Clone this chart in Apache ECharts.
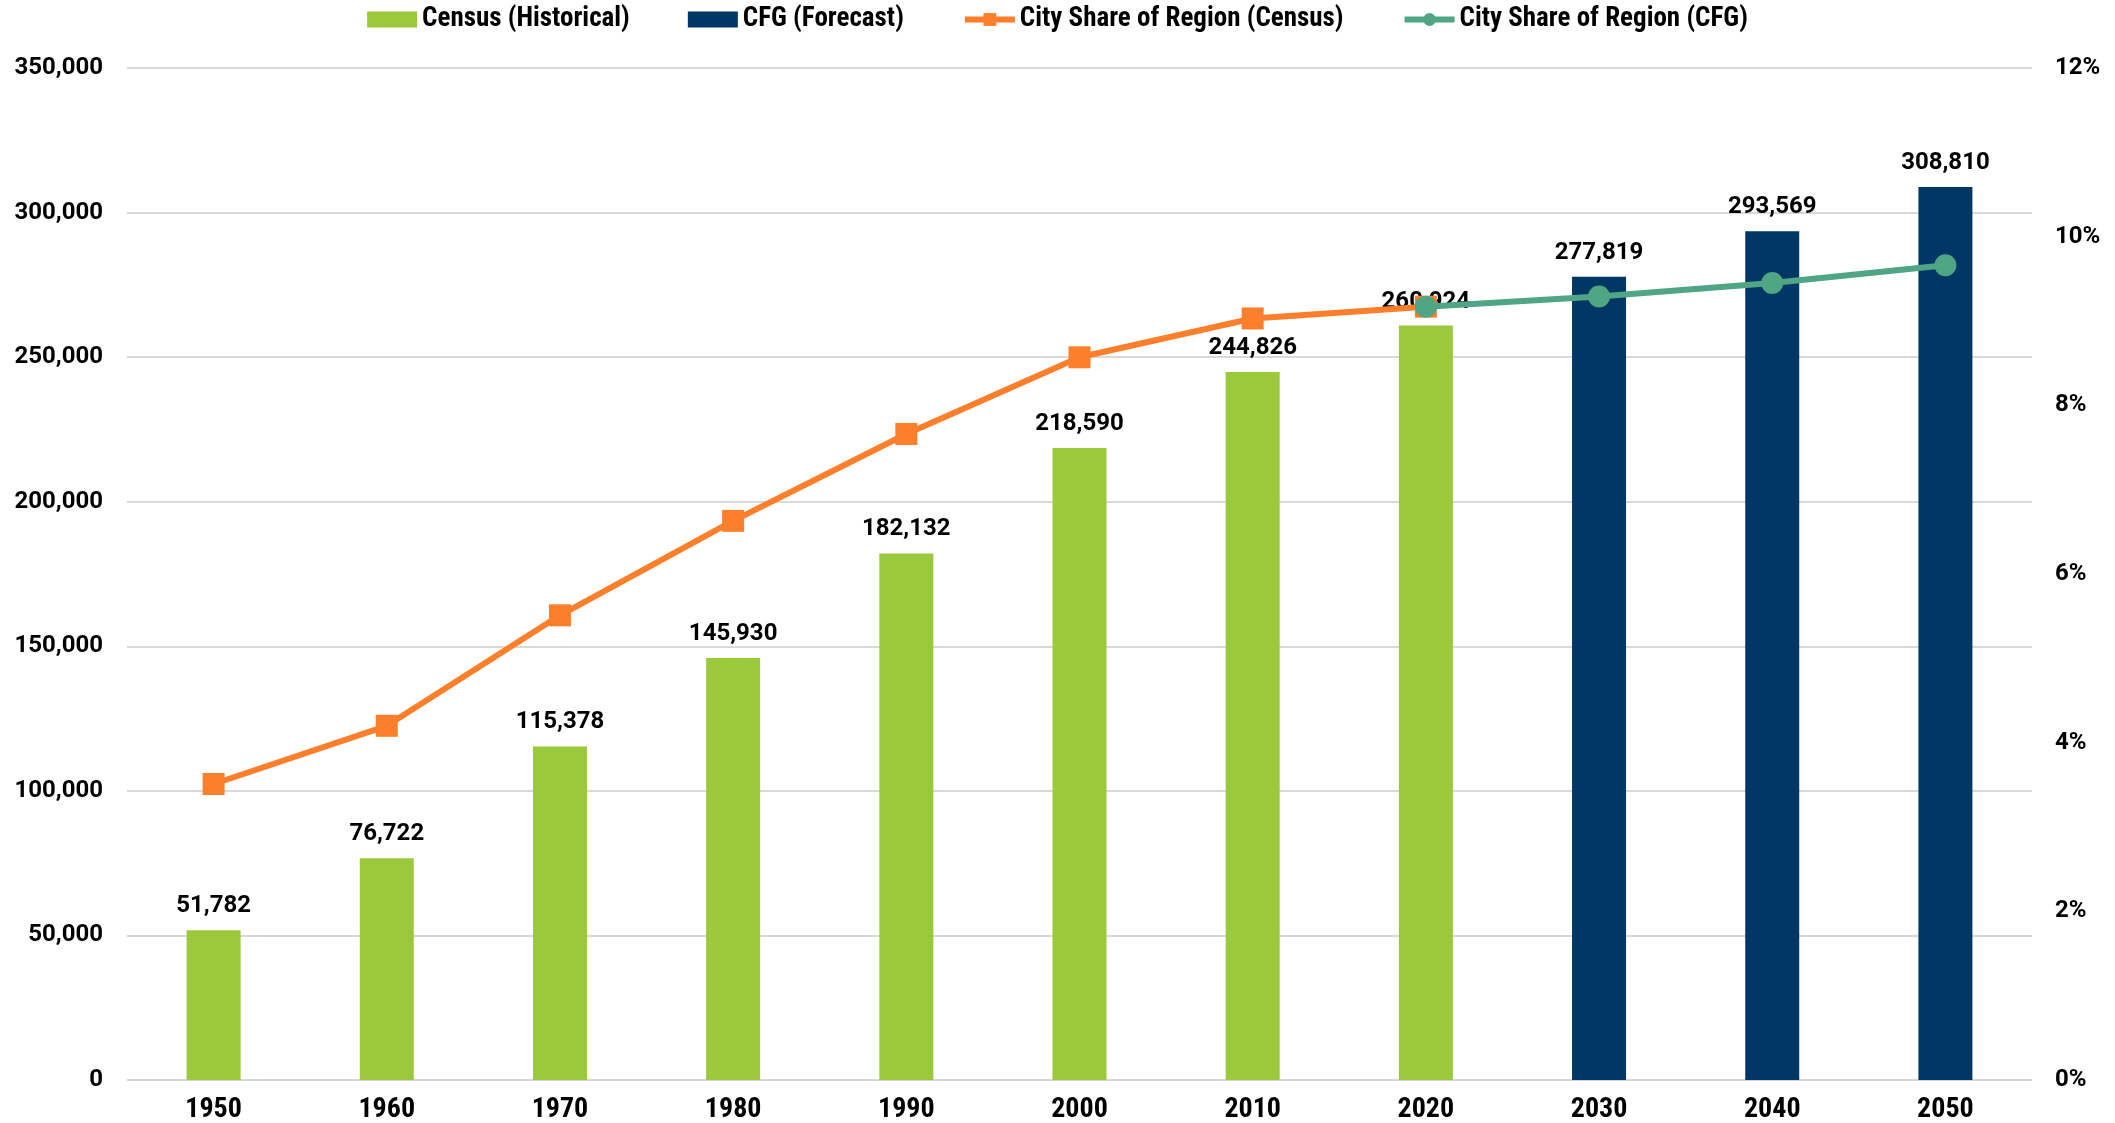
<!DOCTYPE html>
<html>
<head>
<meta charset="utf-8">
<script src="https://cdn.jsdelivr.net/npm/echarts@6/dist/echarts.min.js"></script>
<style>
  html, body { margin: 0; padding: 0; background: #fff; }
  #chart { width: 2115px; height: 1123px; }
</style>
</head>
<body>
<div id="chart"></div>
<script>
// years on the x axis
var years = ["1950", "1960", "1970", "1980", "1990", "2000", "2010", "2020", "2030", "2040", "2050"];
// population, census counts and CFG forecast
var censusPop = [51782, 76722, 115378, 145930, 182132, 218590, 244826, 260924, null, null, null];
var cfgPop = [null, null, null, null, null, null, null, null, 277819, 293569, 308810];
// city share of region (fraction)
var censusShare = [0.0351, 0.0420, 0.0551, 0.0663, 0.0766, 0.0857, 0.0903, 0.0917, null, null, null];
var cfgShare = [null, null, null, null, null, null, null, 0.0917, 0.0929, 0.0945, 0.0966];

var boldFont = "Roboto";
var narrowFont = "'Roboto Condensed', 'Liberation Sans Narrow', Roboto";

var barLabel = {
  show: true,
  position: "top",
  distance: 12,
  color: "#000",
  fontFamily: boldFont,
  fontWeight: "bold",
  fontSize: 24,
  formatter: function (p) {
    return p.value == null ? "" : p.value.toLocaleString("en-US");
  }
};

var option = {
  animation: false,
  backgroundColor: "#fff",
  legend: {
    top: 1,
    left: "center",
    itemGap: 58,
    itemWidth: 50,
    itemHeight: 16,
    textStyle: {
      fontFamily: narrowFont,
      fontWeight: "bold",
      fontSize: 27,
      color: "#000"
    },
    data: [
      { name: "Census (Historical)", icon: "rect" },
      { name: "CFG (Forecast)", icon: "rect" },
      { name: "City Share of Region (Census)", lineStyle: { width: 6 } },
      { name: "City Share of Region (CFG)", lineStyle: { width: 6 } }
    ]
  },
  grid: {
    left: 127,
    right: 83,
    top: 68,
    bottom: 43,
    outerBoundsMode: "none"
  },
  xAxis: {
    type: "category",
    data: years,
    axisLine: { show: false },
    axisTick: { show: false },
    axisLabel: {
      margin: 16,
      color: "#000",
      fontFamily: narrowFont,
      fontWeight: "bold",
      fontSize: 28
    }
  },
  yAxis: [
    {
      type: "value",
      min: 0,
      max: 350000,
      interval: 50000,
      axisLine: { show: false },
      axisTick: { show: false },
      splitLine: { lineStyle: { color: "#d9d9d9", width: 2 } },
      axisLabel: {
        margin: 24,
        color: "#000",
        fontFamily: boldFont,
        fontWeight: "bold",
        fontSize: 24,
        formatter: function (v) { return v.toLocaleString("en-US"); }
      }
    },
    {
      type: "value",
      min: 0,
      max: 0.12,
      interval: 0.02,
      axisLine: { show: false },
      axisTick: { show: false },
      splitLine: { show: false },
      axisLabel: {
        margin: 23,
        color: "#000",
        fontFamily: boldFont,
        fontWeight: "bold",
        fontSize: 24,
        formatter: function (v) { return Math.round(v * 100) + "%"; }
      }
    }
  ],
  series: [
    {
      name: "Census (Historical)",
      type: "bar",
      data: censusPop,
      barWidth: 54,
      barGap: "-100%",
      itemStyle: { color: "#9aca3c" },
      label: barLabel
    },
    {
      name: "CFG (Forecast)",
      type: "bar",
      data: cfgPop,
      barWidth: 54,
      barGap: "-100%",
      itemStyle: { color: "#003764" },
      label: barLabel
    },
    {
      name: "City Share of Region (Census)",
      type: "line",
      yAxisIndex: 1,
      data: censusShare,
      symbol: "rect",
      symbolSize: 22,
      lineStyle: { color: "#fd7f2c", width: 6 },
      itemStyle: { color: "#fd7f2c" },
      z: 3
    },
    {
      name: "City Share of Region (CFG)",
      type: "line",
      yAxisIndex: 1,
      data: cfgShare,
      symbol: "circle",
      symbolSize: 22,
      lineStyle: { color: "#4fa584", width: 6 },
      itemStyle: { color: "#4fa584" },
      z: 4
    }
  ]
};

var myChart = echarts.init(document.getElementById("chart"));
myChart.setOption(option);
</script>
</body>
</html>
